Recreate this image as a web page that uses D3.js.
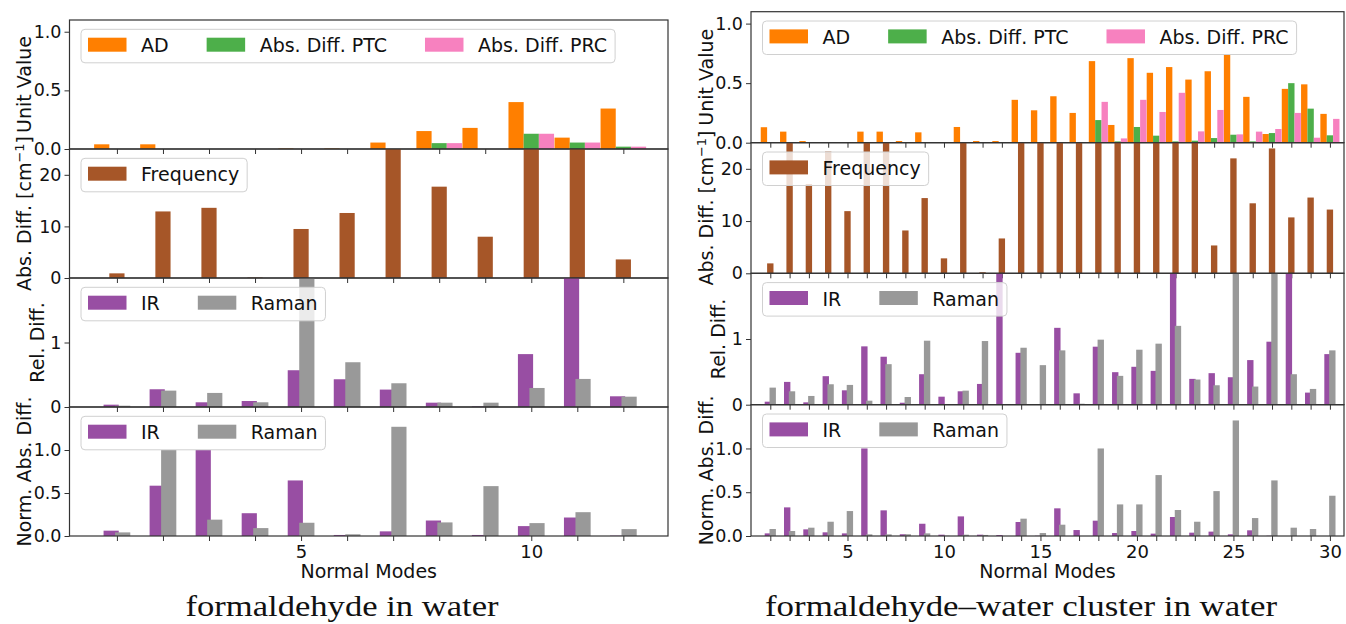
<!DOCTYPE html>
<html>
<head>
<meta charset="utf-8">
<script src="https://cdn.jsdelivr.net/npm/d3@7"></script>
<style>
  body { margin: 0; background: #fff; }
  text { font-family: "DejaVu Sans", sans-serif; }
</style>
</head>
<body>
<script>
// ---- data: formaldehyde in water (12 normal modes)
var modesLeft = [1, 2, 3, 4, 5, 6, 7, 8, 9, 10, 11, 12];
var leftAD    = [0.04, 0.04, 0, 0, 0.005, 0.005, 0.055, 0.153, 0.18, 0.40, 0.097, 0.345];
var leftPTC   = [0, 0, 0, 0, 0, 0, 0, 0.05, 0, 0.13, 0.055, 0.02];
var leftPRC   = [0, 0, 0, 0, 0, 0, 0, 0.05, 0, 0.13, 0.055, 0.02];
var leftFreq  = [0.9, 12.9, 13.6, 0.1, 9.5, 12.6, 31, 17.7, 8.0, 29, 33, 3.6];
var leftRelIR    = [0.036, 0.275, 0.073, 0.093, 0.57, 0.43, 0.27, 0.067, 0.01, 0.82, 2.4, 0.166];
var leftRelRaman = [0.02, 0.254, 0.218, 0.073, 2.3, 0.694, 0.368, 0.067, 0.067, 0.295, 0.435, 0.16];
var leftNormIR    = [0.062, 0.585, 1.0, 0.265, 0.646, 0.012, 0.054, 0.18, 0.012, 0.115, 0.215, 0.004];
var leftNormRaman = [0.042, 1.0, 0.19, 0.092, 0.154, 0.02, 1.27, 0.158, 0.58, 0.15, 0.277, 0.08];

// ---- data: formaldehyde-water cluster in water (30 normal modes)
var modesRight = d3.range(1, 31);
var rightAD  = [0.13, 0.093, 0.014, 0.003, 0.002, 0.093, 0.093, 0.014, 0.087, 0.003, 0.132, 0.014, 0.014, 0.36, 0.272,
                0.39, 0.25, 0.685, 0.149, 0.71, 0.587, 0.635, 0.53, 0.6, 0.74, 0.385, 0.073, 0.452, 0.49, 0.242];
var rightPTC = [0, 0, 0, 0, 0, 0, 0, 0, 0, 0, 0, 0, 0, 0, 0,
                0, 0, 0.19, 0.011, 0.132, 0.059, 0.011, 0.017, 0.039, 0.067, 0.011, 0.081, 0.5, 0.286, 0.062];
var rightPRC = [0, 0, 0, 0, 0, 0, 0, 0, 0, 0, 0, 0, 0, 0, 0,
                0, 0, 0.343, 0.036, 0.36, 0.258, 0.419, 0.095, 0.275, 0.07, 0.093, 0.115, 0.25, 0.042, 0.2];
var rightFreq = [1.9, 30, 17.1, 23.3, 11.9, 28, 32, 8.2, 14.4, 2.86, 27, 0.2, 6.67, 35, 31,
                 29, 33, 30, 36, 28, 34, 31, 29, 5.33, 22.0, 13.4, 23.9, 10.7, 14.5, 12.2];
var rightRelIR = [0.046, 0.347, 0.036, 0.434, 0.219, 0.888, 0.73, 0.03, 0.464, 0.122, 0.204, 0.316, 2.6, 0.79, 0.005,
                  1.17, 0.173, 0.883, 0.495, 0.577, 0.515, 2.4, 0.393, 0.48, 0.418, 0.679, 0.959, 2.5, 0.184, 0.77];
var rightRelRaman = [0.26, 0.204, 0.133, 0.311, 0.301, 0.061, 0.617, 0.117, 0.974, 0, 0.214, 0.969, 0, 0.867, 0.602,
                     0.827, 0.015, 0.99, 0.439, 0.837, 0.929, 1.2, 0.383, 0.296, 2.3, 0.276, 2.7, 0.464, 0.24, 0.827];
var rightNormIR = [0.03, 0.327, 0.076, 0.042, 0.03, 1.0, 0.293, 0.02, 0.14, 0.015, 0.224, 0.015, 0.011, 0.16, 0.003,
                   0.316, 0.068, 0.175, 0.034, 0.057, 0.027, 0.217, 0.038, 0.05, 0.019, 0.065, 0.003, 0, 0, 0];
var rightNormRaman = [0.08, 0.057, 0.095, 0.163, 0.285, 0.019, 0.019, 0.02, 0.03, 0.003, 0.015, 0.012, 0, 0.198, 0.034,
                      0.129, 0, 1.0, 0.361, 0.361, 0.696, 0.297, 0.163, 0.513, 1.32, 0.205, 0.635, 0.095, 0.08, 0.46];

// ---- labels
var seriesAD   = ["AD", "Abs. Diff. PTC", "Abs. Diff. PRC"];
var seriesFreq = ["Frequency"];
var seriesInt  = ["IR", "Raman"];
var yLabels = ["Unit Value", "Abs. Diff. [cm", "Rel. Diff.", "Norm. Abs. Diff."];
var yMax    = [1.1, 25, 2, 1.5];
var yTicks  = [[0, 0.5, 1.0], [0, 10, 20], [0, 1], [0, 0.5, 1.0]];
var titles  = ["formaldehyde in water", "formaldehyde\u2013water cluster in water"];

var colors = {
  "AD": "#ff7f00", "Abs. Diff. PTC": "#4daf4a", "Abs. Diff. PRC": "#f781bf",
  "Frequency": "#a65628", "IR": "#984ea3", "Raman": "#999999"
};

var W = 1346, H = 624;
var svg = d3.select("body").append("svg").attr("width", W).attr("height", H);
svg.append("rect").attr("width", W).attr("height", H).attr("fill", "#fff");

var barW = 0.33;
var fontSize = 19, tickFont = 17.5;

var figures = [
  {
    modes: modesLeft, xDomain: [-0.03, 12.97], left: 69.5, right: 668,
    tops: [20, 149, 278, 407, 536], labelTicks: [5, 10],
    data: [[leftAD, leftPTC, leftPRC], [leftFreq], [leftRelIR, leftRelRaman], [leftNormIR, leftNormRaman]],
    titleX: 342, titleLen: 313
  },
  {
    modes: modesRight, xDomain: [0, 30.73], left: 751, right: 1344,
    tops: [11.7, 142.7, 273.3, 404.7, 536], labelTicks: [5, 10, 15, 20, 25, 30],
    data: [[rightAD, rightPTC, rightPRC], [rightFreq], [rightRelIR, rightRelRaman], [rightNormIR, rightNormRaman]],
    titleX: 1021, titleLen: 512
  }
];

var panelSeries = [seriesAD, seriesFreq, seriesInt, seriesInt];
var panelOffsets = [[-0.33, 0, 0.33], [0], [-0.125, 0.125], [-0.125, 0.125]];
var labelOffsets = [-38.5, -38.5, -26, -38.5];

figures.forEach(function(fig, fi) {
  var x = d3.scaleLinear().domain(fig.xDomain).range([fig.left, fig.right]);

  for (var k = 0; k < 4; k++) {
    var top = fig.tops[k], bottom = fig.tops[k + 1];
    var y = d3.scaleLinear().domain([0, yMax[k]]).range([bottom, top]);
    var g = svg.append("g");
    var clipId = "clip" + fi + "_" + k;
    g.append("clipPath").attr("id", clipId)
      .append("rect").attr("x", fig.left).attr("y", top)
      .attr("width", fig.right - fig.left).attr("height", bottom - top);

    var bars = g.append("g").attr("clip-path", "url(#" + clipId + ")");
    fig.data[k].forEach(function(vals, si) {
      var off = panelOffsets[k][si];
      bars.append("g").selectAll("rect")
        .data(vals)
        .enter()
        .append("rect")
          .attr("x", function(d, i) { return x(fig.modes[i] + off - barW / 2); })
          .attr("width", x(barW) - x(0))
          .attr("y", function(d) { return y(d); })
          .attr("height", function(d) { return bottom - y(d); })
          .attr("fill", colors[panelSeries[k][si]]);
    });

    // frame
    g.append("rect").attr("x", fig.left).attr("y", top)
      .attr("width", fig.right - fig.left).attr("height", bottom - top)
      .attr("fill", "none").attr("stroke", "#333").attr("stroke-width", 1.2);

    // y axis
    var fmt = k === 1 || k === 2 ? d3.format("d") : d3.format(".1f");
    var ya = g.append("g").attr("transform", "translate(" + fig.left + ",0)")
      .call(d3.axisLeft(y).tickValues(yTicks[k]).tickFormat(fmt).tickSize(5).tickPadding(3));
    ya.select(".domain").remove();
    ya.selectAll("line").attr("stroke", "#333");
    ya.selectAll("text").attr("font-size", tickFont).attr("fill", "#111")
      .attr("font-family", "DejaVu Sans");

    // x axis
    var last = k === 3;
    var xa = g.append("g").attr("transform", "translate(0," + bottom + ")")
      .call(d3.axisBottom(x).tickValues(fig.modes).tickSize(5).tickPadding(4)
        .tickFormat(function(d) { return last && fig.labelTicks.indexOf(d) >= 0 ? d : ""; }));
    xa.select(".domain").remove();
    xa.selectAll("line").attr("stroke", "#333");
    xa.selectAll("text").attr("font-size", tickFont + 0.5).attr("fill", "#111")
      .attr("font-family", "DejaVu Sans");

    // y label
    var lab = g.append("text")
      .attr("transform", "translate(" + (fig.left + labelOffsets[k]) + "," + ((top + bottom) / 2) + ") rotate(-90)")
      .attr("text-anchor", "middle")
      .attr("font-size", fontSize).attr("fill", "#111")
      .text(yLabels[k]);
    if (k === 1) {
      lab.append("tspan").attr("baseline-shift", "super").attr("font-size", 13).text("\u22121");
      lab.append("tspan").text("]");
    }

    // legend
    var lg = g.append("g");
    var bx = fig.left + 11.5, by = top + 9.3, bh = 33.5;
    var box = lg.append("rect").attr("x", bx).attr("y", by).attr("height", bh)
      .attr("rx", 4).attr("fill", "#fff").attr("fill-opacity", 0.8)
      .attr("stroke", "#d0d0d0").attr("stroke-width", 1);
    var cx = bx + 7;
    panelSeries[k].forEach(function(name, si) {
      lg.append("rect").attr("x", cx).attr("y", by + 8.4).attr("width", 38.5).attr("height", 14)
        .attr("fill", colors[name]);
      var t = lg.append("text").attr("x", cx + 38.5 + 14.5).attr("y", by + 23)
        .attr("font-size", fontSize).attr("fill", "#111").text(name);
      var end = cx + 38.5 + 14.5 + t.node().getComputedTextLength();
      cx = end + 38;
      if (si === panelSeries[k].length - 1) box.attr("width", end + 8 - bx);
    });
  }

  svg.append("text")
    .attr("x", (fig.left + fig.right) / 2).attr("y", 578)
    .attr("text-anchor", "middle").attr("font-size", fontSize).attr("fill", "#111")
    .text("Normal Modes");

  svg.append("text")
    .attr("x", fig.titleX).attr("y", 616)
    .attr("text-anchor", "middle")
    .attr("font-size", 30)
    .attr("textLength", fig.titleLen).attr("lengthAdjust", "spacingAndGlyphs")
    .attr("fill", "#111")
    .style("font-family", "'Liberation Serif', serif")
    .text(titles[fi]);
});
</script>
</body>
</html>
